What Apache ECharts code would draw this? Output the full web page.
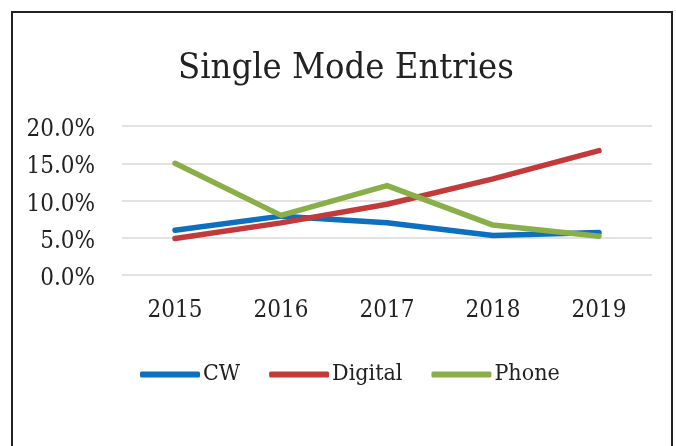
<!DOCTYPE html>
<html><head><meta charset="utf-8">
<script src="https://cdn.jsdelivr.net/npm/echarts@6/dist/echarts.min.js"></script>
<style>html,body{margin:0;padding:0;background:#fff;}#c{width:676px;height:446px;}</style>
</head><body><div id="c"></div>
<script>
const categories = ['2015','2016','2017','2018','2019'];
const cw = [6.0, 7.9, 7.0, 5.3, 5.7];
const digital = [4.9, 7.0, 9.5, 12.9, 16.7];
const phone = [15.0, 8.0, 12.0, 6.7, 5.2];
const yTicks = [0, 5, 10, 15, 20];
const FONT = "'DejaVu Serif Condensed', 'DejaVu Serif', serif";
const chart = echarts.init(document.getElementById('c'));
function s(name, data, color){
  return {name, type:'line', data, symbol:'none', smooth:false,
    lineStyle:{width:5.5, color, cap:'round', join:'round'}, itemStyle:{color}};
}
chart.setOption({
  animation:false,
  backgroundColor:'#fff',
  title:{text:'Single Mode Entries', left:173, top:46,
    textStyle:{fontFamily:FONT, fontSize:36, fontWeight:'normal', color:'#222'}},
  graphic:[{type:'rect', shape:{x:12, y:12, width:660, height:460}, style:{fill:'none', stroke:'#222', lineWidth:2}}],
  legend:{top:358, left:135, itemWidth:60, itemHeight:6, itemGap:29, icon:'roundRect',
    textStyle:{fontFamily:FONT, fontSize:23, color:'#222', padding:[0,0,0,-2]},
    data:['CW','Digital','Phone']},
  grid:{left:122, right:24, top:126, bottom:171},
  xAxis:{type:'category', data:categories, boundaryGap:true,
    axisLine:{show:false}, axisTick:{show:false},
    axisLabel:{fontFamily:FONT, fontSize:24, color:'#222', margin:24}},
  yAxis:{type:'value', min:yTicks[0], max:yTicks[yTicks.length-1], interval:5,
    axisLine:{show:false}, axisTick:{show:false},
    splitLine:{lineStyle:{color:'#d9d9d9', width:1.5}},
    axisLabel:{fontFamily:FONT, fontSize:24, color:'#222', margin:27, verticalAlign:'top', lineHeight:8, formatter:v=>v.toFixed(1)+'%'}},
  series:[s('CW', cw, '#0F6FBF'), s('Digital', digital, '#C23B3A'), s('Phone', phone, '#8AAF48')]
});
</script></body></html>
